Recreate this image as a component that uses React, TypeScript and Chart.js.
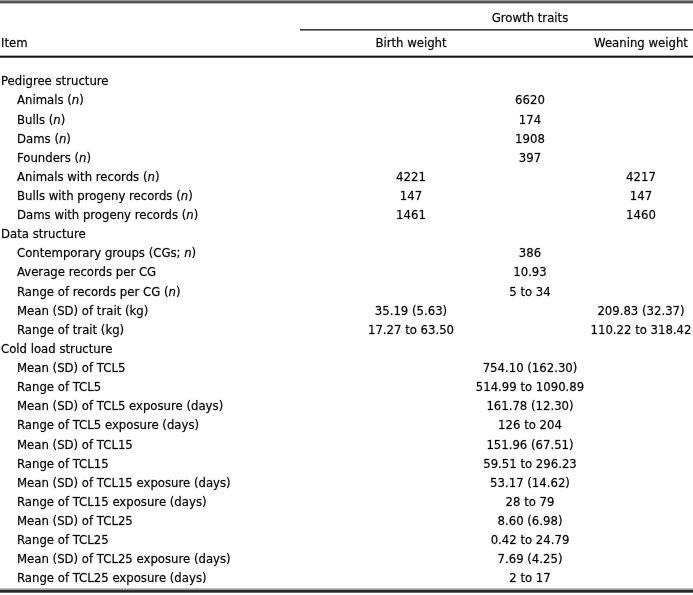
import React, { useEffect, useRef } from "react";
import { Chart, registerables } from "chart.js";

Chart.register(...registerables);

// ---------- table content ----------
const TITLE_GROUP = "Growth traits";
const HEAD_ITEM = "Item";
const COLUMN_HEADS = ["Birth weight", "Weaning weight"];

const SECTION_ROWS = ["Pedigree structure", "Data structure", "Cold load structure"];

const ROW_LABELS = [
  "Pedigree structure",
  "Animals (n)",
  "Bulls (n)",
  "Dams (n)",
  "Founders (n)",
  "Animals with records (n)",
  "Bulls with progeny records (n)",
  "Dams with progeny records (n)",
  "Data structure",
  "Contemporary groups (CGs; n)",
  "Average records per CG",
  "Range of records per CG (n)",
  "Mean (SD) of trait (kg)",
  "Range of trait (kg)",
  "Cold load structure",
  "Mean (SD) of TCL5",
  "Range of TCL5",
  "Mean (SD) of TCL5 exposure (days)",
  "Range of TCL5 exposure (days)",
  "Mean (SD) of TCL15",
  "Range of TCL15",
  "Mean (SD) of TCL15 exposure (days)",
  "Range of TCL15 exposure (days)",
  "Mean (SD) of TCL25",
  "Range of TCL25",
  "Mean (SD) of TCL25 exposure (days)",
  "Range of TCL25 exposure (days)",
];

// values shown under Birth weight only
const BIRTH_VALUES: (string | null)[] = [
  null, null, null, null, null, "4221", "147", "1461",
  null, null, null, null, "35.19 (5.63)", "17.27 to 63.50",
  null, null, null, null, null, null, null, null, null, null, null, null, null,
];

// values common to both traits (spanning cell)
const JOINT_VALUES: (string | null)[] = [
  null, "6620", "174", "1908", "397", null, null, null,
  null, "386", "10.93", "5 to 34", null, null,
  null, "754.10 (162.30)", "514.99 to 1090.89", "161.78 (12.30)", "126 to 204",
  "151.96 (67.51)", "59.51 to 296.23", "53.17 (14.62)", "28 to 79",
  "8.60 (6.98)", "0.42 to 24.79", "7.69 (4.25)", "2 to 17",
];

// values shown under Weaning weight only
const WEANING_VALUES: (string | null)[] = [
  null, null, null, null, null, "4217", "147", "1460",
  null, null, null, null, "209.83 (32.37)", "110.22 to 318.42",
  null, null, null, null, null, null, null, null, null, null, null, null, null,
];

// ---------- layout (x scale runs in page units 0..693) ----------
const W = 693;
const H = 595;
const COL_X = { birth: 411, joint: 530, weaning: 641 };
const FONT_FAMILY = '"DejaVu Sans Condensed", "Open Sans", sans-serif';
const FONT_SIZE = 13;

function drawRich(ctx: CanvasRenderingContext2D, text: string, x: number, y: number, align: "left" | "center") {
  // italicise the symbol n in "(n)" / "(CGs; n)"
  const parts: { t: string; it: boolean }[] = [];
  const re = /\bn(?=\))/g;
  let last = 0;
  let m: RegExpExecArray | null;
  while ((m = re.exec(text))) {
    if (m.index > last) parts.push({ t: text.slice(last, m.index), it: false });
    parts.push({ t: "n", it: true });
    last = m.index + 1;
  }
  if (last < text.length) parts.push({ t: text.slice(last), it: false });
  const fontN = `${FONT_SIZE}px ${FONT_FAMILY}`;
  const fontI = `italic ${FONT_SIZE}px ${FONT_FAMILY}`;
  let total = 0;
  for (const p of parts) {
    ctx.font = p.it ? fontI : fontN;
    total += ctx.measureText(p.t).width;
  }
  let cx = align === "center" ? x - total / 2 : x;
  ctx.textAlign = "left";
  ctx.textBaseline = "middle";
  ctx.fillStyle = "#000";
  ctx.strokeStyle = "rgba(0,0,0,0.55)";
  ctx.lineWidth = 0.35;
  for (const p of parts) {
    ctx.font = p.it ? fontI : fontN;
    ctx.fillText(p.t, cx, y);
    ctx.strokeText(p.t, cx, y);
    cx += ctx.measureText(p.t).width;
  }
}

const tablePlugin = {
  id: "tablePlugin",
  afterDraw(chart: any) {
    const ctx: CanvasRenderingContext2D = chart.ctx;
    const xs = chart.scales.x;
    const ys = chart.scales.y;
    ctx.save();

    // rules
    const rule = (x0: number, x1: number, y: number, h: number, color: string) => {
      ctx.fillStyle = color;
      ctx.fillRect(xs.getPixelForValue(x0), y, xs.getPixelForValue(x1) - xs.getPixelForValue(x0), h);
    };
    rule(0, W, 0, 1, "#9a9a9a");
    rule(0, W, 1, 2.4, "#555");
    rule(300, W, 29.2, 1.3, "#111");
    rule(0, W, 55, 1, "#b0b0b0");
    rule(0, W, 56, 1.7, "#111");
    rule(0, W, 588.3, 1.2, "#a0a0a0");
    rule(0, W, 589.7, 3, "#2a2a2a");

    // header
    drawRich(ctx, TITLE_GROUP, xs.getPixelForValue(COL_X.joint), 18.5, "center");
    drawRich(ctx, HEAD_ITEM, xs.getPixelForValue(1), 43.5, "left");
    drawRich(ctx, COLUMN_HEADS[0], xs.getPixelForValue(COL_X.birth), 43.5, "center");
    drawRich(ctx, COLUMN_HEADS[1], xs.getPixelForValue(COL_X.weaning), 43.5, "center");

    // row labels from the y category scale
    ROW_LABELS.forEach((lab, i) => {
      const y = ys.getPixelForValue(i);
      const indent = SECTION_ROWS.includes(lab) ? 1 : 17;
      drawRich(ctx, lab, xs.getPixelForValue(indent), y, "left");
    });

    // cell values at the dataset element positions
    chart.data.datasets.forEach((ds: any, di: number) => {
      const meta = chart.getDatasetMeta(di);
      meta.data.forEach((el: any, j: number) => {
        drawRich(ctx, ds.texts[j], el.x, el.y, "center");
      });
    });
    ctx.restore();
  },
};

function buildDataset(label: string, values: (string | null)[], x: number) {
  const data: { x: number; y: string }[] = [];
  const texts: string[] = [];
  values.forEach((v, i) => {
    if (v !== null) {
      data.push({ x, y: ROW_LABELS[i] });
      texts.push(v);
    }
  });
  return { label, data, texts, pointRadius: 0, showLine: false };
}

export default function App() {
  const ref = useRef<HTMLCanvasElement | null>(null);
  useEffect(() => {
    document.body.style.margin = "0";
    document.body.style.background = "#fff";
    if (!ref.current) return;
    const chart = new Chart(ref.current, {
      type: "scatter",
      data: {
        labels: ROW_LABELS,
        datasets: [
          buildDataset("Birth weight", BIRTH_VALUES, COL_X.birth),
          buildDataset("Both traits", JOINT_VALUES, COL_X.joint),
          buildDataset("Weaning weight", WEANING_VALUES, COL_X.weaning),
        ] as any,
      },
      options: {
        responsive: false,
        animation: false,
        layout: { padding: { top: 72.4, bottom: 6.5, left: 0, right: 0 } },
        plugins: { legend: { display: false }, tooltip: { enabled: false } },
        events: [],
        scales: {
          x: { type: "linear", min: 0, max: W, display: false },
          y: { type: "category", labels: ROW_LABELS, offset: true, display: false },
        },
      },
      plugins: [tablePlugin],
    });
    return () => chart.destroy();
  }, []);
  return (
    <div style={{ width: W, height: H, background: "#fff" }}>
      <canvas ref={ref} width={W} height={H} style={{ display: "block" }} />
    </div>
  );
}
